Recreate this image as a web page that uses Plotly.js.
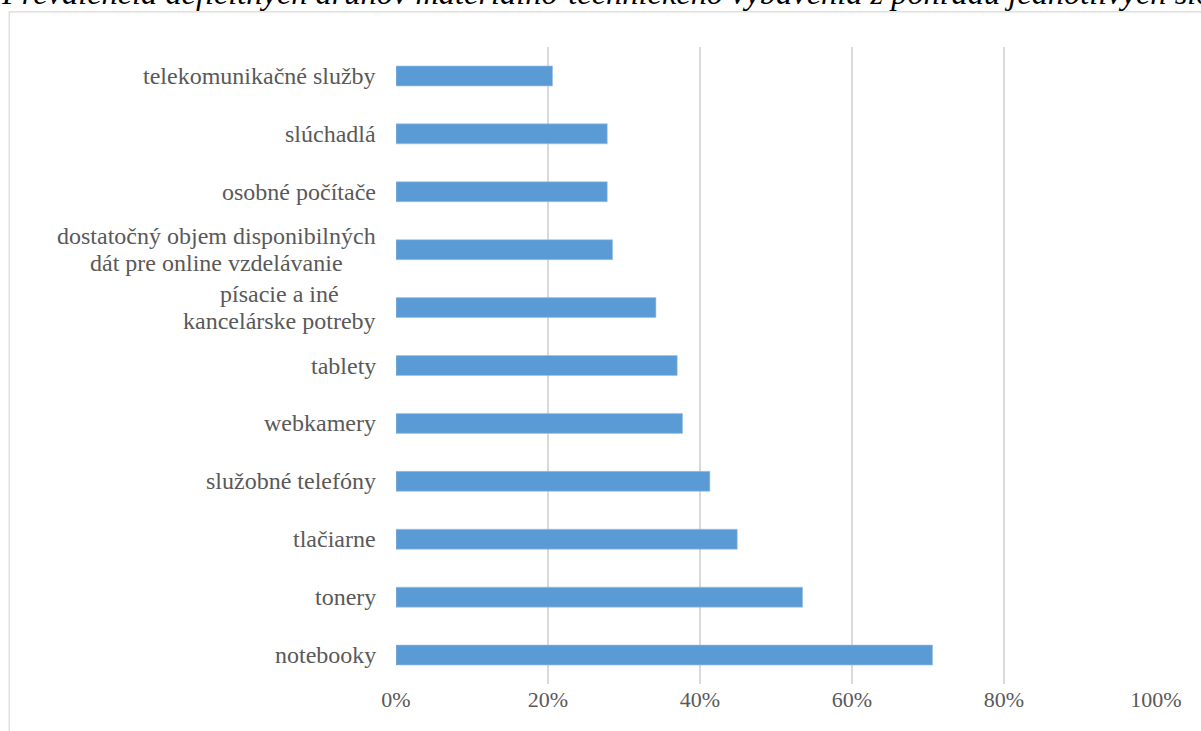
<!DOCTYPE html>
<html>
<head>
<meta charset="utf-8">
<script src="https://cdn.plot.ly/plotly-3.0.1.min.js"></script>
<style>
html,body{margin:0;padding:0;background:#fff;overflow:hidden;}
#chart{width:1201px;height:731px;}
</style>
</head>
<body>
<div id="chart"></div>
<script>
const categories = [
  "notebooky",
  "tonery",
  "tlačiarne",
  "služobné telefóny",
  "webkamery",
  "tablety",
  "písacie a iné<br>kancelárske potreby",
  "dostatočný objem disponibilných<br>dát pre online vzdelávanie",
  "osobné počítače",
  "slúchadlá",
  "telekomunikačné služby"
];
const values = [70.6, 53.5, 44.9, 41.3, 37.7, 37.0, 34.2, 28.5, 27.8, 27.8, 20.6];
const tickValues = [0, 20, 40, 60, 80, 100];
const tickLabels = ["0%", "20%", "40%", "60%", "80%", "100%"];
const titleText = "Prevalencia deficitných druhov materiálno-technického vybavenia z pohľadu jednotlivých slovenských univerzít";

const serif = "Liberation Serif";
const labelSize = 24;
const lineStep = 27;

const trace = {
  type: "bar",
  orientation: "h",
  y: categories,
  x: values,
  marker: {color: "#5b9bd5", line: {color: "#9dc3e6", width: 0.6}},
  hoverinfo: "x+y"
};

const ctx = document.createElement("canvas").getContext("2d");
ctx.font = labelSize + "px 'Liberation Serif'";

const annotations = [];
categories.forEach((c) => {
  const lines = c.split("<br>");
  const widths = lines.map((l) => ctx.measureText(l).width);
  const maxW = Math.max.apply(null, widths);
  const n = lines.length;
  lines.forEach((l, i) => {
    annotations.push({
      text: l,
      x: 0, xref: "paper", xanchor: "center", xshift: -(20 + maxW / 2),
      y: c, yref: "y", yanchor: "middle",
      yshift: ((n - 1) / 2 - i) * lineStep,
      showarrow: false,
      borderpad: 0,
      font: {family: serif, size: labelSize, color: "#595959"}
    });
  });
});

annotations.push({
  text: "<i>" + titleText + "</i>",
  x: -0.522, xref: "paper", xanchor: "left",
  y: 1.084, yref: "paper", yanchor: "middle",
  showarrow: false,
  font: {family: serif, size: 32.4, color: "#000000"}
});

const layout = {
  width: 1201,
  height: 731,
  margin: {l: 396, r: 45, t: 47, b: 47},
  paper_bgcolor: "#ffffff",
  plot_bgcolor: "#ffffff",
  bargap: 0.655,
  showlegend: false,
  xaxis: {
    range: [0, 100],
    tickvals: tickValues,
    ticktext: tickLabels,
    showgrid: true,
    gridcolor: "#d9d9d9",
    gridwidth: 1.5,
    zeroline: false,
    showline: false,
    ticks: "",
    ticklen: 0,
    tickfont: {family: serif, size: 22, color: "#595959"},
    fixedrange: true
  },
  yaxis: {
    categoryorder: "array",
    categoryarray: categories,
    showticklabels: false,
    showgrid: false,
    zeroline: false,
    showline: false,
    ticks: "",
    fixedrange: true
  },
  annotations: annotations,
  shapes: [{
    type: "rect", xref: "paper", yref: "paper",
    x0: -0.509, x1: 1.2, y0: -0.2, y1: 1.055,
    line: {color: "#d9d9d9", width: 1.2},
    fillcolor: "rgba(0,0,0,0)",
    layer: "below"
  }]
};

Plotly.newPlot("chart", [trace], layout, {displayModeBar: false, staticPlot: true});
</script>
</body>
</html>
